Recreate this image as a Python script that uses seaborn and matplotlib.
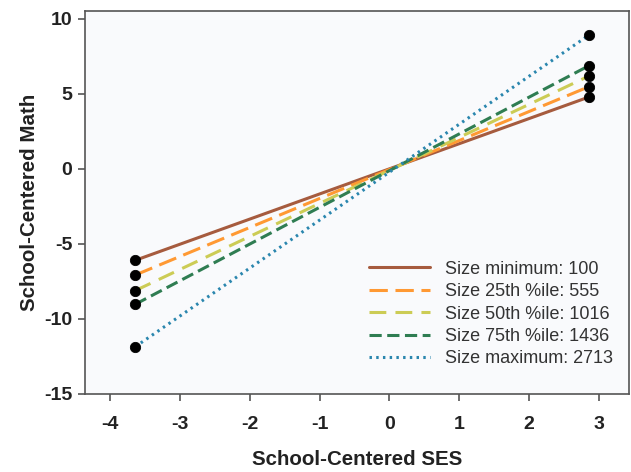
import pandas as pd
import seaborn as sns
import matplotlib.pyplot as plt

# endpoints of each fitted line (school-centered SES vs math)
ses_low = -3.64
ses_high = 2.86
labels = [
    "Size minimum: 100",
    "Size 25th %ile: 555",
    "Size 50th %ile: 1016",
    "Size 75th %ile: 1436",
    "Size maximum: 2713",
]
math_low = [-6.09, -7.07, -8.11, -9.02, -11.85]
math_high = [4.80, 5.49, 6.20, 6.89, 8.93]

colors = ["#a65b3e", "#ff9933", "#cccc55", "#2f7d52", "#2a86ae"]
dashes = [None, (6, 2.5), (5.5, 3), (4, 1.8), (0.8, 1.4)]


def main():
    sns.set_theme(style="white")
    plt.rcParams["font.family"] = ["Liberation Sans", "DejaVu Sans"]
    plt.rcParams["axes.unicode_minus"] = False

    rows = []
    for lab, lo, hi in zip(labels, math_low, math_high):
        rows.append({"ses": ses_low, "math": lo, "size": lab})
        rows.append({"ses": ses_high, "math": hi, "size": lab})
    df = pd.DataFrame(rows)

    fig = plt.figure(figsize=(6.31, 4.72), dpi=100)
    ax = fig.add_axes([0.1347, 0.1653, 0.862, 0.8114])
    ax.set_facecolor("#f9fafc")

    for lab, col, ds in zip(labels, colors, dashes):
        sub = df[df["size"] == lab]
        sns.lineplot(data=sub, x="ses", y="math", ax=ax, color=col,
                     linewidth=2.2, label=lab, sort=False)
        if ds is not None:
            ax.get_lines()[-1].set_dashes(ds)
    sns.scatterplot(data=df, x="ses", y="math", ax=ax, color="black",
                    s=55, edgecolor="black", zorder=5, legend=False)

    ax.set_xlim(-4.36, 3.43)
    ax.set_ylim(-15, 10.53)
    ax.set_xticks(range(-4, 4))
    ax.set_yticks(range(-15, 11, 5))
    for s in ax.spines.values():
        s.set_color("#555555")
        s.set_linewidth(1.2)
    ax.tick_params(direction="out", length=5, width=1.2, color="#555555",
                   labelsize=14, left=True, bottom=True, pad=4)
    ax.tick_params(axis="x", pad=11)
    for t in ax.get_xticklabels() + ax.get_yticklabels():
        t.set_fontweight("bold")
        t.set_color("#222222")
    ax.set_xlabel("School-Centered SES", fontsize=14.8, fontweight="bold",
                  color="#222222", labelpad=12)
    ax.set_ylabel("School-Centered Math", fontsize=14.8, fontweight="bold",
                  color="#222222", labelpad=4)

    ax.legend(loc="lower right", bbox_to_anchor=(1.0, 0.027), frameon=False,
              fontsize=13, handlelength=3.4, handletextpad=0.8,
              labelspacing=0.3, labelcolor="#333333")

    fig.savefig("out.png", dpi=100, facecolor="white")


if __name__ == "__main__":
    main()
